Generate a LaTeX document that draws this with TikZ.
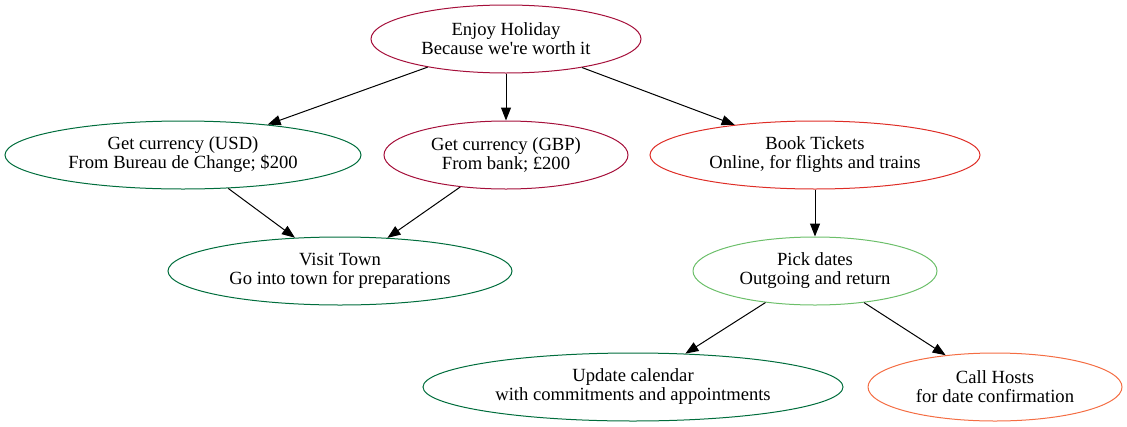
\documentclass[tikz,border=0pt]{standalone}
\usepackage{fontspec}
\setmainfont{Liberation Serif}
\usepackage{xcolor}
\definecolor{crimson}{HTML}{A50F3A}
\definecolor{brick}{HTML}{DE2D26}
\definecolor{pine}{HTML}{006D3C}
\definecolor{leaf}{HTML}{6CBF6A}
\definecolor{tangerine}{HTML}{F46D43}
\usetikzlibrary{shapes.geometric,arrows.meta,positioning}

\begin{document}
\begin{tikzpicture}[x=1pt, y=-1pt,
    goal/.style={ellipse, draw=#1, line width=1pt, inner sep=0pt, minimum height=68pt, align=center, font=\fontsize{18.6}{19}\selectfont, text=black},
    link/.style={-{Triangle[length=13pt,width=10pt]}, line width=1pt, black}]
    \useasboundingbox (0,0) rectangle (1127,426);
    \node[goal=crimson, minimum width=270pt] (holiday) at (506,39) {Enjoy Holiday\\Because we\textquotesingle re worth it};
    \node[goal=pine, minimum width=356pt] (usd) at (183,155) {Get currency (USD)\\From Bureau de Change; \$200};
    \node[goal=crimson, minimum width=244pt] (gbp) at (506,155) {Get currency (GBP)\\From bank; £200};
    \node[goal=brick, minimum width=330pt] (tickets) at (815,155) {Book Tickets\\Online, for flights and trains};
    \node[goal=pine, minimum width=344pt] (town) at (340,271) {Visit Town\\Go into town for preparations};
    \node[goal=leaf, minimum width=244pt] (dates) at (815,271) {Pick dates\\Outgoing and return};
    \node[goal=pine, minimum width=420pt] (calendar) at (633,387) {Update calendar\\with commitments and appointments};
    \node[goal=tangerine, minimum width=254pt] (hosts) at (995,387) {Call Hosts\\for date confirmation};
    \draw[link] (holiday) -- (usd);
    \draw[link] (holiday) -- (gbp);
    \draw[link] (holiday) -- (tickets);
    \draw[link] (usd) -- (town);
    \draw[link] (gbp) -- (town);
    \draw[link] (tickets) -- (dates);
    \draw[link] (dates) -- (calendar);
    \draw[link] (dates) -- (hosts);
  \end{tikzpicture}
\end{document}
